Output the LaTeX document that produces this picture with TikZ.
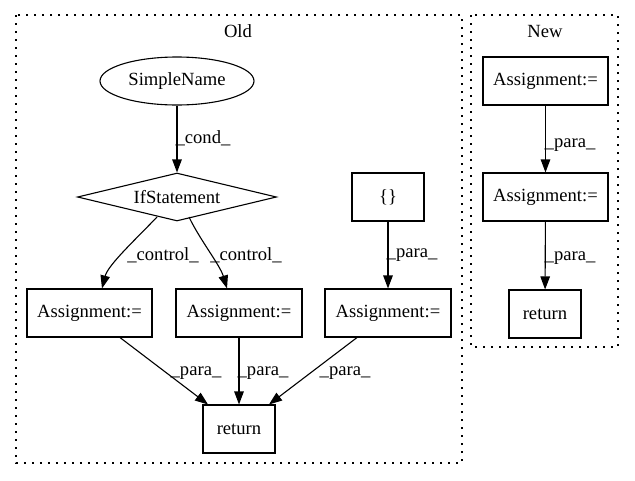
\documentclass[tikz,border=0pt]{standalone}
\usepackage{fontspec}
\setmainfont{Liberation Serif}
\usetikzlibrary{shapes.geometric,arrows.meta,calc}
\begin{document}
\begin{tikzpicture}[x=1pt,y=-1pt,
  every node/.style={font=\fontsize{18.6}{22}\selectfont},
  box/.style={draw,line width=1.1pt,rectangle,inner sep=0pt,minimum height=48pt},
  cluster/.style={draw,line width=1.1pt,dash pattern=on 1.6pt off 6.4pt},
  edge/.style={draw,line width=1.1pt,-{Triangle[length=13pt,width=9.5pt]}},
  lbl/.style={inner sep=0pt}]
\useasboundingbox (0,0) rectangle (635,480);
% clusters
\draw[cluster] (16,15) rectangle (462,463);
\draw[cluster] (471,15) rectangle (618,347);
\node[lbl] (oldt) at (238,31) {Old};
\node[lbl] (newt) at (545,31) {New};
% Old nodes
\node[draw,ellipse,line width=1.1pt,inner sep=0pt,minimum width=154pt,minimum height=48pt] (sn) at (177,81) {SimpleName};
\node[draw,diamond,line width=1.1pt,inner sep=0pt,aspect=4.15,minimum width=199pt,minimum height=48pt] (ifs) at (177,197) {IfStatement};
\node[box,minimum width=72pt] (br) at (388,197) {\{\}};
\node[box,minimum width=125pt] (a1) at (89.5,313) {Assignment:=};
\node[box,minimum width=126pt] (a2) at (239,313) {Assignment:=};
\node[box,minimum width=126pt] (a3) at (388,313) {Assignment:=};
\node[box,minimum width=72pt] (ret) at (239,429) {return};
% Old edges
\draw[edge] (sn) -- (ifs);
\draw[edge] ([shift={(-20,20)}]ifs.center) .. controls (135,240) and (108,265) .. ([xshift=12.5pt]a1.north);
\draw[edge] ([shift={(12,20)}]ifs.center) .. controls (200,240) and (220,265) .. ([xshift=-12pt]a2.north);
\draw[edge] (br) -- (a3);
\draw[edge] ([xshift=30.5pt]a1.south) -- ([xshift=-31pt]ret.north);
\draw[edge] (a2) -- (ret);
\draw[edge] ([xshift=-31pt]a3.south) -- ([xshift=30pt]ret.north);
% Old labels
\node[lbl] (l1) at (203,138) {\_cond\_};
\node[lbl] (l2) at (163,255) {\_control\_};
\node[lbl] (l3) at (246,255) {\_control\_};
\node[lbl] (l4) at (412,255) {\_para\_};
\node[lbl] (l5) at (196,373) {\_para\_};
\node[lbl] (l6) at (263,373) {\_para\_};
\node[lbl] (l7) at (345,373) {\_para\_};
% New nodes
\node[box,minimum width=125pt] (n1) at (545.5,81) {Assignment:=};
\node[box,minimum width=125pt] (n2) at (545.5,197) {Assignment:=};
\node[box,minimum width=72pt] (n3) at (545,314) {return};
\draw[edge] (n1) -- (n2);
\draw[edge] (n2) -- (n3);
\node[lbl] (l8) at (570,145) {\_para\_};
\node[lbl] (l9) at (570,258) {\_para\_};
\end{tikzpicture}
\end{document}
